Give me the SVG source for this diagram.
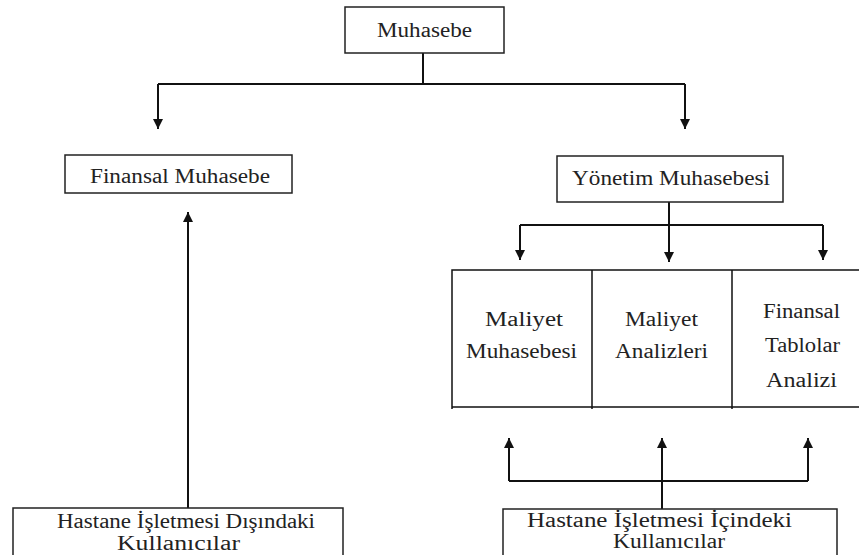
<svg xmlns="http://www.w3.org/2000/svg" width="859" height="555" viewBox="0 0 859 555">
<defs>
<marker id="ah" viewBox="0 0 10 10" refX="10" refY="5" markerWidth="10" markerHeight="10" markerUnits="userSpaceOnUse" orient="auto">
<path d="M0,0 L10,5 L0,10 z" fill="#111"/>
</marker>
<style>
.box{fill:#fff;stroke:#222;stroke-width:1.5}
.ln{fill:none;stroke:#111;stroke-width:2}
.t{font-family:"Liberation Serif","Times New Roman",serif;font-size:20px;fill:#222}
</style>
</defs>
<rect width="859" height="555" fill="#fff"/>
<g id="connectors">
<path class="ln" d="M423,53 V84"/>
<path class="ln" d="M158,84 H685"/>
<path class="ln" d="M158,84 V129" marker-end="url(#ah)"/>
<path class="ln" d="M685,84 V129" marker-end="url(#ah)"/>
<path class="ln" d="M669,202 V262" marker-end="url(#ah)"/>
<path class="ln" d="M520,225 H823"/>
<path class="ln" d="M520,225 V260" marker-end="url(#ah)"/>
<path class="ln" d="M823,225 V260" marker-end="url(#ah)"/>
<path class="ln" d="M188,508 V212" marker-end="url(#ah)"/>
<path class="ln" d="M662,509 V481"/>
<path class="ln" d="M509,481 H808"/>
<path class="ln" d="M509,481 V438" marker-end="url(#ah)"/>
<path class="ln" d="M662,481 V438" marker-end="url(#ah)"/>
<path class="ln" d="M808,481 V438" marker-end="url(#ah)"/>
</g>
<g id="muhasebe">
<rect class="box" x="345" y="7" width="159" height="46"/>
<text class="t" x="377" y="37" textLength="95" lengthAdjust="spacingAndGlyphs">Muhasebe</text>
</g>
<g id="finansal-muhasebe">
<rect class="box" x="65" y="155" width="227" height="38"/>
<text class="t" x="90" y="183" textLength="180" lengthAdjust="spacingAndGlyphs">Finansal Muhasebe</text>
</g>
<g id="yonetim-muhasebesi">
<rect class="box" x="557" y="156" width="226" height="46"/>
<text class="t" x="572" y="185" textLength="198" lengthAdjust="spacingAndGlyphs">Yönetim Muhasebesi</text>
</g>
<g id="table">
<path class="ln" style="stroke-width:1.5" d="M859,270 H452 V409 M452,407 H859 M592,270 V409 M732,270 V409"/>
</g>
<g id="maliyet-muhasebesi">
<text class="t" x="485" y="326" textLength="78" lengthAdjust="spacingAndGlyphs">Maliyet</text>
<text class="t" x="466" y="358" textLength="111" lengthAdjust="spacingAndGlyphs">Muhasebesi</text>
</g>
<g id="maliyet-analizleri">
<text class="t" x="625" y="326" textLength="73" lengthAdjust="spacingAndGlyphs">Maliyet</text>
<text class="t" x="615" y="358" textLength="93" lengthAdjust="spacingAndGlyphs">Analizleri</text>
</g>
<g id="finansal-tablolar-analizi">
<text class="t" x="763" y="318" textLength="77" lengthAdjust="spacingAndGlyphs">Finansal</text>
<text class="t" x="765" y="352" textLength="75" lengthAdjust="spacingAndGlyphs">Tablolar</text>
<text class="t" x="766" y="387" textLength="71" lengthAdjust="spacingAndGlyphs">Analizi</text>
</g>
<g id="disindaki-kullanicilar">
<path class="box" style="fill:none" d="M13,560 V508 H343 V560"/>
<text class="t" x="57" y="528" textLength="258" lengthAdjust="spacingAndGlyphs">Hastane İşletmesi Dışındaki</text>
<text class="t" x="117" y="550" textLength="123" lengthAdjust="spacingAndGlyphs">Kullanıcılar</text>
</g>
<g id="icindeki-kullanicilar">
<path class="box" style="fill:none" d="M503,560 V509 H837 V560"/>
<text class="t" x="527" y="527" textLength="265" lengthAdjust="spacingAndGlyphs">Hastane İşletmesi İçindeki</text>
<text class="t" x="613" y="548" textLength="112" lengthAdjust="spacingAndGlyphs">Kullanıcılar</text>
</g>
</svg>
